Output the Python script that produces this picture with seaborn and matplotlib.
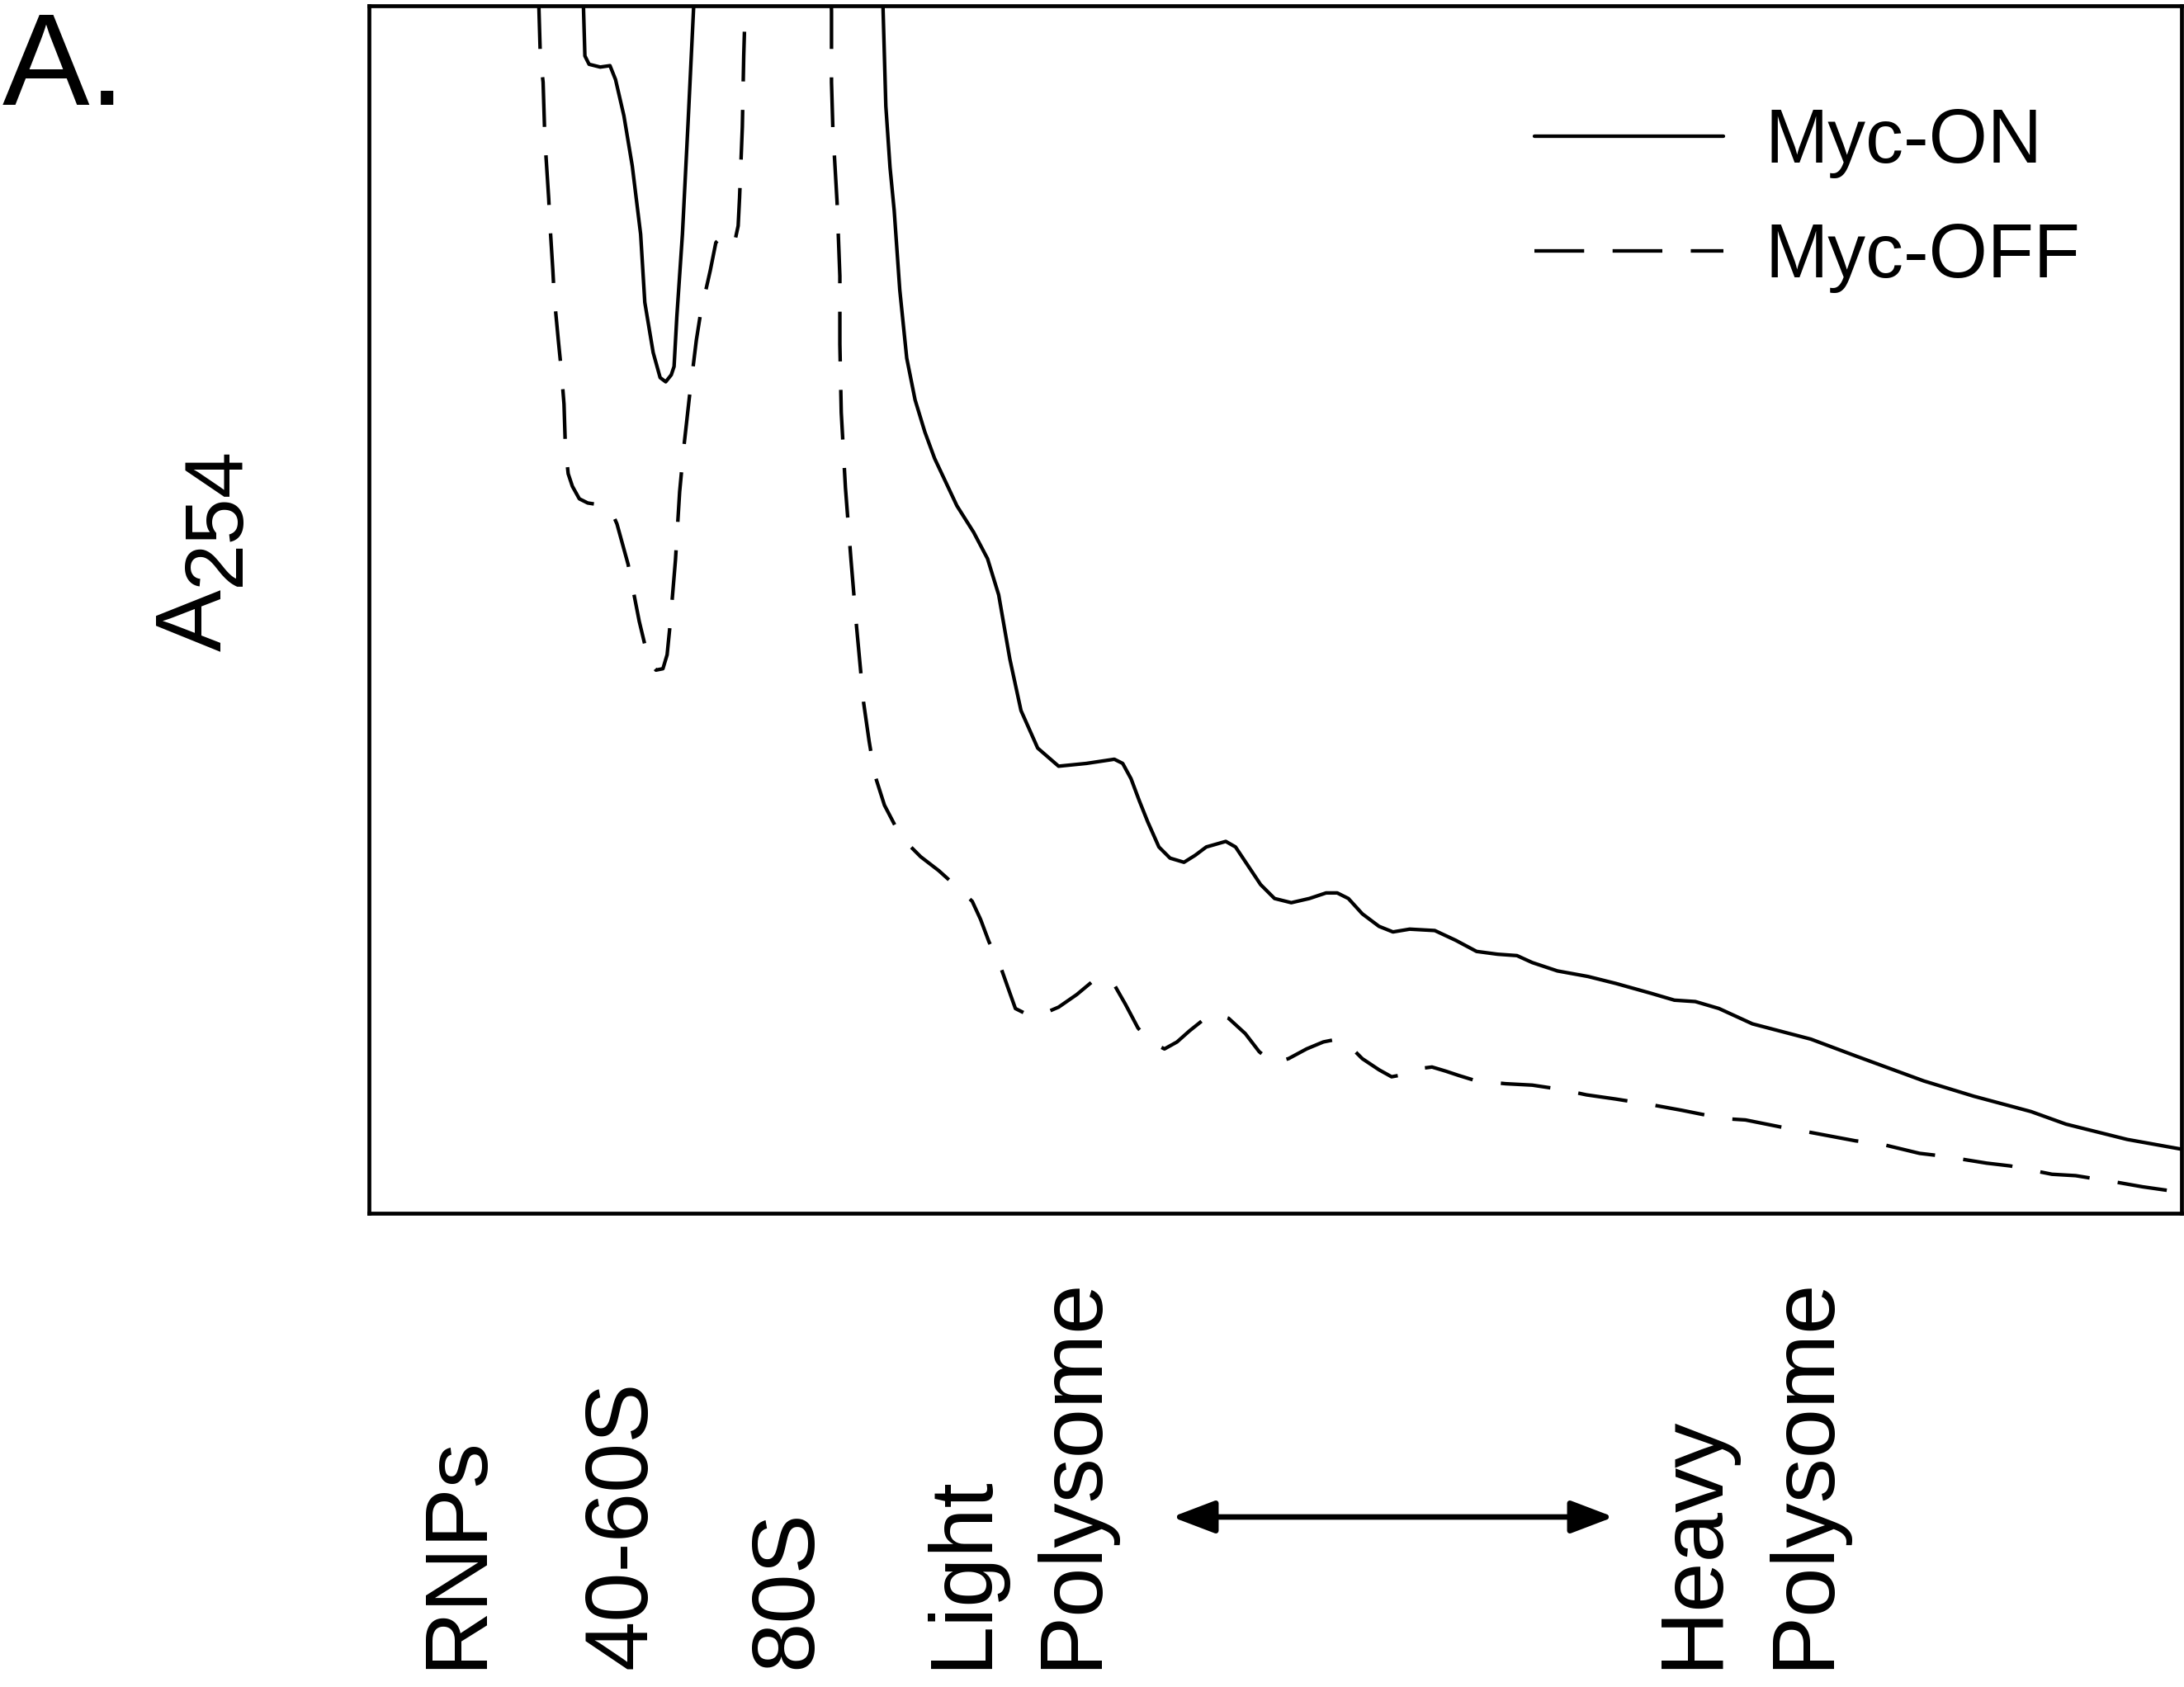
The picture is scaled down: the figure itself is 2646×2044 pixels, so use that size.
import numpy as np
import pandas as pd
import matplotlib
matplotlib.use("Agg")
import matplotlib.pyplot as plt
import seaborn as sns
from matplotlib.patches import FancyArrowPatch, ArrowStyle

# ---------------- data (gradient position, A254 in arbitrary units; >867 = off scale) ----------------
on_x = [152, 154, 155, 158, 166, 173, 177, 183, 189, 195, 198, 204, 209, 213, 217, 219, 221, 225, 229, 233, 234,
        368, 369, 371, 374, 377, 381, 386, 392, 399, 406, 422, 434, 444, 452, 460, 468, 480, 495, 515, 535, 541,
        547, 553, 559, 567, 575, 585, 593, 601, 615, 622, 630, 640, 650, 662, 675, 687, 695, 703, 713, 725, 735,
        747, 765, 780, 795, 810, 824, 835, 853, 875, 895, 920, 937, 952, 969, 993, 1035, 1067, 1116, 1152, 1193,
        1218, 1262, 1301]
on_y = [900, 865, 831, 825, 823, 824, 814, 788, 752, 703, 654, 618, 600, 597, 602, 608, 644, 703, 782, 865, 900,
        900, 865, 795, 751, 720, 663, 614, 584, 561, 542, 508, 489, 470, 444, 398, 361, 334, 321, 323, 326, 323,
        312, 296, 281, 263, 255, 252, 257, 263, 267, 263, 251, 236, 226, 223, 226, 230, 230, 226, 215, 206, 202,
        204, 203, 196, 188, 186, 185, 180, 174, 170, 165, 158, 153, 152, 147, 136, 125, 113, 95, 84, 73,
        64, 53, 46]

off_x = [121, 122, 123, 125, 126, 127, 129, 130, 132, 133, 136, 138, 140, 141, 143, 146, 151, 157, 170, 174, 178,
         186, 194, 201, 206, 211, 214, 216, 220, 223, 226, 230, 235, 238, 245, 249, 252, 255, 259, 262, 265, 266,
         268, 269, 270, 271,
         331, 332, 332, 333, 336, 338, 338, 339, 342, 346, 350, 355, 359, 363, 370, 382, 396, 409, 419, 433, 439,
         445, 453, 459, 464, 472, 481, 495, 508, 520, 528, 535, 543, 552, 561, 571, 580, 589, 599, 608, 617, 629,
         639, 649, 660, 673, 685, 695, 703, 713, 725, 734, 745, 755, 763, 773, 782, 795, 816, 835, 855, 874, 895,
         920, 942, 972, 988, 1018, 1035, 1067, 1084, 1113, 1130, 1161, 1178, 1208, 1225, 1256, 1273, 1301]
off_y = [900, 865, 831, 812, 780, 760, 729, 709, 677, 658, 626, 606, 581, 550, 531, 522, 513, 510, 508, 504, 495,
         466, 425, 396, 390, 391, 401, 421, 469, 518, 550, 586, 627, 646, 677, 697, 700, 700, 696, 695, 709, 729,
         780, 831, 865, 900,
         900, 863, 812, 778, 726, 673, 624, 575, 521, 469, 421, 367, 339, 315, 293, 270, 256, 246, 237, 224, 211,
         195, 178, 161, 147, 143, 142, 148, 157, 167, 169, 164, 150, 133, 123, 118, 123, 131, 139, 143, 140, 129,
         116, 108, 111, 118, 123, 125, 121, 111, 103, 98, 100, 104, 105, 102, 99, 95, 93, 92, 89, 85, 82,
         78, 74, 68, 67, 61, 58, 52, 50, 43, 41, 36, 34, 28, 27, 22, 19, 15]

series_names = ["Myc-ON", "Myc-OFF"]
fraction_labels = ["RNPs", "40-60S", "80S", "Light", "Polysome", "Heavy", "Polysome"]

df = pd.concat([
    pd.DataFrame({"pos": on_x, "a254": on_y, "condition": series_names[0]}),
    pd.DataFrame({"pos": off_x, "a254": off_y, "condition": series_names[1]}),
], ignore_index=True)

# ---------------- style ----------------
sns.set_theme(style="white")
plt.rcParams["font.family"] = ["Liberation Sans", "DejaVu Sans"]
plt.rcParams["text.color"] = "black"
plt.rcParams["lines.solid_joinstyle"] = "round"
plt.rcParams["lines.dash_joinstyle"] = "round"
plt.rcParams["lines.solid_capstyle"] = "round"
plt.rcParams["lines.dash_capstyle"] = "butt"

W, H = 2646, 2044
fig = plt.figure(figsize=(W / 100, H / 100), dpi=100)
fig.patch.set_facecolor("white")


def fx(px):
    return px / W


def fy(py):
    return 1 - py / H


ax = fig.add_axes([fx(447), fy(1470), (2643 - 447) / W, (1470 - 7) / H])

LW = 3.1
sns.lineplot(data=df, x="pos", y="a254", style="condition", style_order=series_names,
             dashes={"Myc-ON": "", "Myc-OFF": (14, 8)}, color="black", linewidth=LW,
             estimator=None, sort=False, ax=ax)

ax.set_xlim(0, 1301)
ax.set_ylim(0, 867)
ax.set_xticks([])
ax.set_yticks([])
ax.set_xlabel("")
ax.set_ylabel("")
for s in ax.spines.values():
    s.set_visible(True)
    s.set_color("black")
    s.set_linewidth(3.4)

handles, labels = ax.get_legend_handles_labels()
pairs = [(h, l) for h, l in zip(handles, labels) if l in series_names]
if ax.get_legend() is not None:
    ax.get_legend().remove()
leg = fig.legend([p[0] for p in pairs], [p[1] for p in pairs], loc="upper left",
                 bbox_to_anchor=(fx(1859), fy(130)), frameon=False, fontsize=66,
                 handlelength=2.5, handletextpad=0.55, labelspacing=0.58,
                 borderpad=0, borderaxespad=0)
for line in leg.get_lines():
    line.set_linewidth(LW)
    line.set_color("black")

# panel letter
fig.text(fx(3), fy(127), "A.", ha="left", va="baseline", fontsize=114)

# y label A254
fig.text(fx(268), fy(789), "A", rotation=90, rotation_mode="anchor", ha="left", va="baseline", fontsize=81)
fig.text(fx(290), fy(710), "254", rotation=90, rotation_mode="anchor", ha="left", va="baseline", fontsize=73)

# fraction labels along the bottom
label_baselines = [582, 782, 982, 1194, 1327, 2079, 2214]
for lab, bx in zip(fraction_labels, label_baselines):
    fig.text(fx(bx), fy(2022), lab, rotation=90, rotation_mode="anchor", ha="left", va="baseline",
             fontsize=78)

# double-headed arrow
arrow = FancyArrowPatch(posA=(fx(1420), fy(1838)), posB=(fx(1955), fy(1838)),
                        transform=fig.transFigure, arrowstyle=ArrowStyle("<|-|>", head_length=0.42, head_width=0.16),
                        mutation_scale=75, lw=4.8, color="black", shrinkA=0, shrinkB=0)
fig.add_artist(arrow)

fig.savefig("out.png", dpi=100, facecolor="white")
